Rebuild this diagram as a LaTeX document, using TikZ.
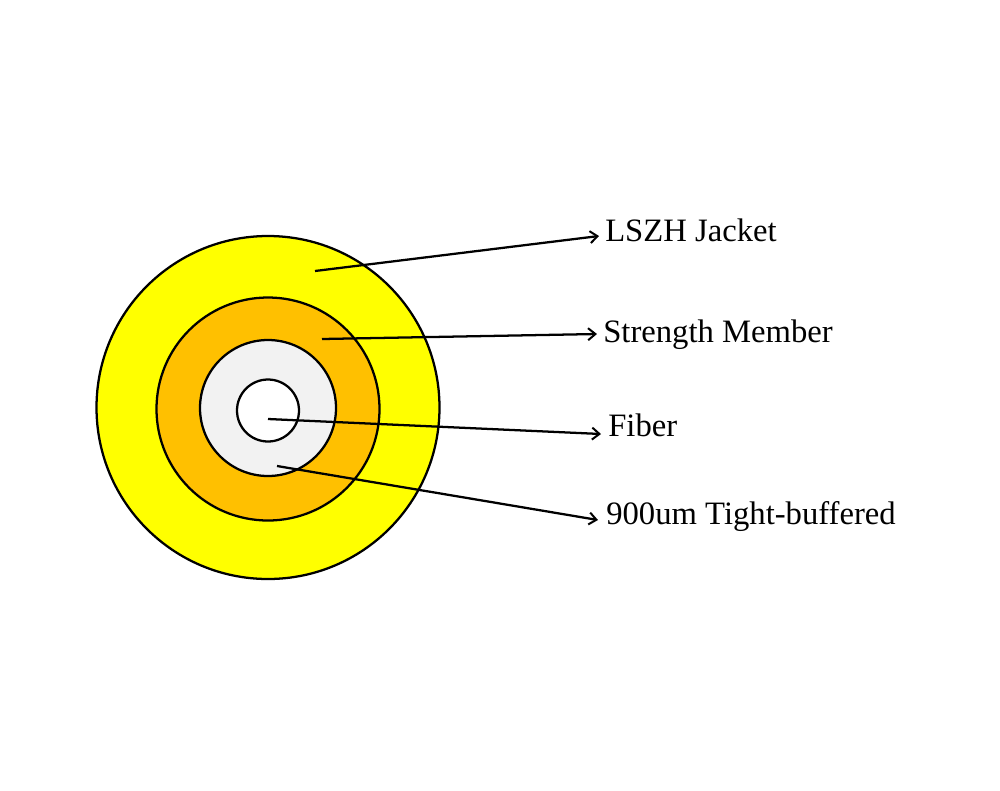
\documentclass[tikz,border=0pt]{standalone}
\usepackage{fontspec}
\setmainfont{Liberation Serif}
\usetikzlibrary{arrows.meta}
\definecolor{jacketc}{RGB}{255,255,0}
\definecolor{memberc}{RGB}{255,192,0}
\definecolor{bufferc}{RGB}{242,242,242}
\tikzset{
  ring/.style={circle,draw=black,line width=1.7pt,inner sep=0pt,outer sep=0pt},
  lbl/.style={anchor=base west,inner sep=0pt,font=\fontsize{24.5}{28}\selectfont},
  lead/.style={draw=black,line width=1.7pt,-{Straight Barb[length=5.5pt,width=9pt,line width=1.5pt]}}
}
\begin{document}
\begin{tikzpicture}[x=0.75pt,y=-0.75pt]
\useasboundingbox (0,0) rectangle (1000,790);
\fill[white] (0,0) rectangle (1000,790);
\node[ring,fill=jacketc,minimum size=257.25pt] (jacket) at (268,407.5) {};
\node[ring,fill=memberc,minimum size=167.25pt] (member) at (268,409) {};
\node[ring,fill=bufferc,minimum size=102pt] (buffer) at (268,408) {};
\node[ring,fill=white,minimum size=46.5pt] (fiber) at (268,410.5) {};
\coordinate (a1) at (315,271);
\coordinate (a2) at (322,339);
\coordinate (a3) at (268,419);
\coordinate (a4) at (277,466);
\node[lbl] (t1) at (605,241) {LSZH Jacket};
\node[lbl] (t2) at (603,342) {Strength Member};
\node[lbl] (t3) at (608,436) {Fiber};
\node[lbl] (t4) at (606,524) {900um Tight-buffered};
\coordinate (e1) at (599,236);
\coordinate (e2) at (597,334);
\coordinate (e3) at (601,434);
\coordinate (e4) at (598,520);
\draw[lead] (a1) -- (e1);
\draw[lead] (a2) -- (e2);
\draw[lead] (a3) -- (e3);
\draw[lead] (a4) -- (e4);
\end{tikzpicture}
\end{document}
